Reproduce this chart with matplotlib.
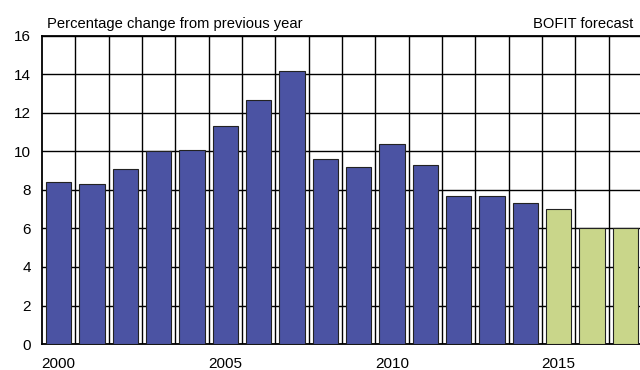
import matplotlib
matplotlib.use("Agg")
import matplotlib.pyplot as plt

years = list(range(2000, 2018))
growth = [8.4, 8.3, 9.1, 10.0, 10.1, 11.3, 12.7, 14.2, 9.6, 9.2, 10.4, 9.3, 7.7, 7.7, 7.3, 7.0, 6.0, 6.0]
forecast_from = 2015
xtick_years = [2000, 2005, 2010, 2015]
yticks = list(range(0, 17, 2))

blue = "#4B53A3"
green = "#C9D68A"

plt.rcParams['font.family'] = ['Liberation Sans', 'DejaVu Sans']

fig = plt.figure(figsize=(6.4, 3.7), dpi=100)
ax = fig.add_axes([42/640, 26/370, 600/640, 308/370])

colors = [green if y >= forecast_from else blue for y in years]
ax.bar(years, growth, width=0.76, color=colors, edgecolor="#222222", linewidth=0.8, zorder=3)

ax.set_xlim(years[0] - 0.5, years[-1] + 0.5)
ax.set_ylim(0, 16)
ax.set_yticks(yticks)
ax.set_yticklabels([str(v) for v in yticks], fontsize=11)
ax.set_xticks(xtick_years)
ax.set_xticklabels([str(v) for v in xtick_years], fontsize=11)
ax.set_xticks([y + 0.5 for y in years[:-1]], minor=True)

ax.tick_params(axis='both', which='both', length=0)
ax.tick_params(axis='y', pad=8)
ax.tick_params(axis='x', pad=9)

ax.grid(axis='y', which='major', color='black', linewidth=1.0, zorder=0)
ax.grid(axis='x', which='minor', color='black', linewidth=1.0, zorder=0)
ax.grid(axis='x', which='major', visible=False)
ax.set_axisbelow(True)

for s in ax.spines.values():
    s.set_linewidth(1.3)
    s.set_color('black')

fig.text(47/640, 1 - 28/370, "Percentage change from previous year", fontsize=10.6, ha='left', va='baseline')
fig.text(633/640, 1 - 28/370, "BOFIT forecast", fontsize=10.6, ha='right', va='baseline')

fig.savefig("out.png", dpi=100)
